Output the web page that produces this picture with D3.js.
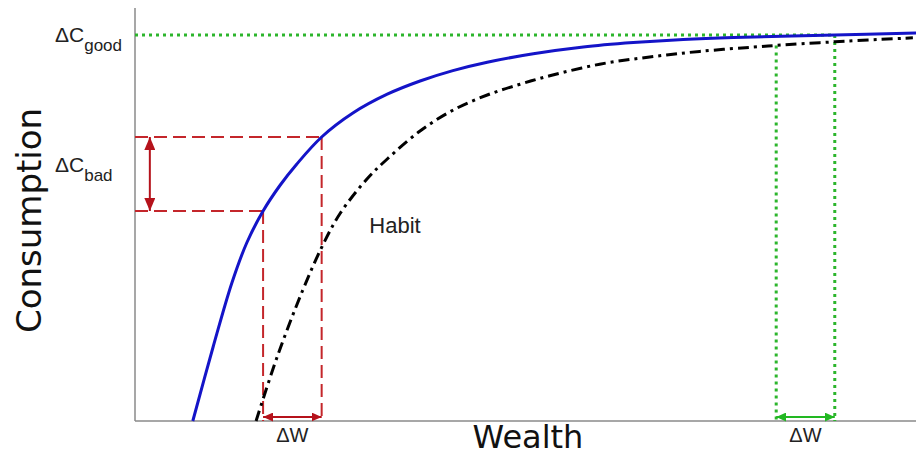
<!DOCTYPE html>
<html lang="en">
<head>
<meta charset="UTF-8">
<script src="https://d3js.org/d3.v7.min.js"></script>
<title>Consumption vs Wealth</title>
<style>
body { margin: 0; background: #fff; }
svg { display: block; }
.lbl { font-family: "Liberation Sans", Arial, sans-serif; fill: #222; }
.axis-title { font-family: "DejaVu Sans", sans-serif; fill: #111; }
</style>
</head>
<body>
<div id="chart"></div>
<script>
// data (wealth, consumption in arbitrary units)
const wealthBase = [0.74, 1.0, 1.24, 1.43, 1.64, 1.86, 2.07, 2.39, 2.79, 3.23, 3.65, 4.07, 4.51, 5.1, 5.74, 6.38, 7.02, 7.66, 8.96, 10];
const consBase   = [0, 1.85, 3.45, 4.45, 5.25, 5.9, 6.42, 7.1, 7.7, 8.17, 8.5, 8.76, 8.97, 9.18, 9.35, 9.46, 9.54, 9.59, 9.65, 9.7];

const wealthHabit = [1.55, 1.82, 2.15, 2.41, 2.63, 2.97, 3.23, 3.65, 4.07, 4.51, 4.93, 5.31, 5.95, 6.59, 7.23, 8.0, 8.21, 8.96, 9.96];
const consHabit   = [0, 1.6, 3.28, 4.42, 5.2, 6.05, 6.55, 7.25, 7.77, 8.15, 8.42, 8.63, 8.92, 9.1, 9.24, 9.36, 9.39, 9.48, 9.58];

// annotations
const badW = [1.64, 2.39];      // wealth change at low wealth
const badC = [5.25, 7.1];       // resulting consumption change
const goodW = [8.21, 8.96];     // same wealth change at high wealth
const goodC = 9.65;
const goodHabitC = 9.39;
const arrowC = 0.1;             // height of the ΔW arrows
const badArrowW = 0.19;         // position of the ΔC_bad arrow
const habitAt = [3.00, 4.7];    // where the "Habit" label sits

const width = 916, height = 456;

const x = d3.scaleLinear().domain([0, 10]).range([135, 916]);
const y = d3.scaleLinear().domain([0, 10.325]).range([421, 8]);

const svg = d3.select('#chart').append('svg')
  .attr('width', width)
  .attr('height', height);

const defs = svg.append('defs');
function marker(id, color, len, half) {
  defs.append('marker')
    .attr('id', id)
    .attr('markerUnits', 'userSpaceOnUse')
    .attr('viewBox', `0 ${-half} ${len} ${half * 2}`)
    .attr('refX', len)
    .attr('refY', 0)
    .attr('markerWidth', len)
    .attr('markerHeight', half * 2)
    .attr('orient', 'auto-start-reverse')
    .append('path')
    .attr('d', `M0,${-half}L${len},0L0,${half}Z`)
    .attr('fill', color);
}
marker('redBig', '#b5121b', 13, 5.5);
marker('redSmall', '#b5121b', 10, 4.5);
marker('green', '#22b822', 10, 4.5);

// axes (plain lines, no ticks)
svg.append('line')
  .attr('x1', x(0)).attr('x2', x(0))
  .attr('y1', y(0)).attr('y2', y.range()[1])
  .attr('stroke', '#8a8a8a').attr('stroke-width', 1.5);
svg.append('line')
  .attr('x1', x(0)).attr('x2', x(10))
  .attr('y1', y(0)).attr('y2', y(0))
  .attr('stroke', '#8a8a8a').attr('stroke-width', 1.5);

// red dashed guides
const red = '#c4262b';
const guides = svg.append('g')
  .attr('stroke', red).attr('stroke-width', 2)
  .attr('stroke-dasharray', '13,6').attr('fill', 'none');
badW.forEach((w, i) => {
  guides.append('line')
    .attr('x1', x(0)).attr('x2', x(w))
    .attr('y1', y(badC[i])).attr('y2', y(badC[i]));
  guides.append('line')
    .attr('x1', x(w)).attr('x2', x(w))
    .attr('y1', y(badC[i])).attr('y2', y(0));
});

// green dotted guides
const green = '#2cb52c';
const gg = svg.append('g')
  .attr('stroke', green).attr('stroke-width', 3)
  .attr('stroke-dasharray', '3,4').attr('fill', 'none');
gg.append('line')
  .attr('x1', x(0)).attr('x2', x(goodW[1]))
  .attr('y1', y(goodC)).attr('y2', y(goodC));
gg.append('line')
  .attr('x1', x(goodW[0])).attr('x2', x(goodW[0]))
  .attr('y1', y(goodHabitC)).attr('y2', y(0));
gg.append('line')
  .attr('x1', x(goodW[1])).attr('x2', x(goodW[1]))
  .attr('y1', y(goodC)).attr('y2', y(0));

// curves
const line = d3.line()
  .x(d => x(d[0]))
  .y(d => y(d[1]))
  .curve(d3.curveCatmullRom.alpha(0.5));

svg.append('path')
  .datum(d3.zip(wealthHabit, consHabit))
  .attr('d', line)
  .attr('fill', 'none')
  .attr('stroke', '#000')
  .attr('stroke-width', 3)
  .attr('stroke-dasharray', '11,5,3,5');

svg.append('path')
  .datum(d3.zip(wealthBase, consBase))
  .attr('d', line)
  .attr('fill', 'none')
  .attr('stroke', '#1414c8')
  .attr('stroke-width', 3);

// arrows
svg.append('line')
  .attr('x1', x(badArrowW)).attr('x2', x(badArrowW))
  .attr('y1', y(badC[1])).attr('y2', y(badC[0]))
  .attr('stroke', '#b5121b').attr('stroke-width', 2)
  .attr('marker-start', 'url(#redBig)').attr('marker-end', 'url(#redBig)');
svg.append('line')
  .attr('x1', x(badW[0])).attr('x2', x(badW[1]))
  .attr('y1', y(arrowC)).attr('y2', y(arrowC))
  .attr('stroke', '#b5121b').attr('stroke-width', 2)
  .attr('marker-start', 'url(#redSmall)').attr('marker-end', 'url(#redSmall)');
svg.append('line')
  .attr('x1', x(goodW[0])).attr('x2', x(goodW[1]))
  .attr('y1', y(arrowC)).attr('y2', y(arrowC))
  .attr('stroke', '#22b822').attr('stroke-width', 2)
  .attr('marker-start', 'url(#green)').attr('marker-end', 'url(#green)');

// labels
function deltaC(sub, cy) {
  const t = svg.append('text').attr('class', 'lbl')
    .attr('x', 55).attr('y', cy)
    .style('font-size', '21px');
  t.append('tspan').text('\u0394C');
  t.append('tspan').attr('dy', 9).style('font-size', '17px').text(sub);
}
deltaC('good', y(goodC) + 7);
deltaC('bad', y((badC[0] + badC[1]) / 2) - 2);

svg.selectAll('.dw')
  .data([badW, goodW])
  .enter().append('text')
  .attr('class', 'lbl')
  .attr('x', d => x((d[0] + d[1]) / 2))
  .attr('y', y(0) + 21)
  .attr('text-anchor', 'middle')
  .style('font-size', '20px')
  .text('\u0394W');

svg.append('text').attr('class', 'lbl')
  .attr('x', x(habitAt[0])).attr('y', y(habitAt[1]))
  .style('font-size', '22px')
  .text('Habit');

svg.append('text').attr('class', 'axis-title')
  .attr('transform', `translate(41,${(y(0) + y.range()[1]) / 2 + 6}) rotate(-90)`)
  .attr('text-anchor', 'middle')
  .style('font-size', '34px')
  .text('Consumption');

svg.append('text').attr('class', 'axis-title')
  .attr('x', 528).attr('y', 448)
  .attr('text-anchor', 'middle')
  .style('font-size', '32px')
  .text('Wealth');
</script>
</body>
</html>
